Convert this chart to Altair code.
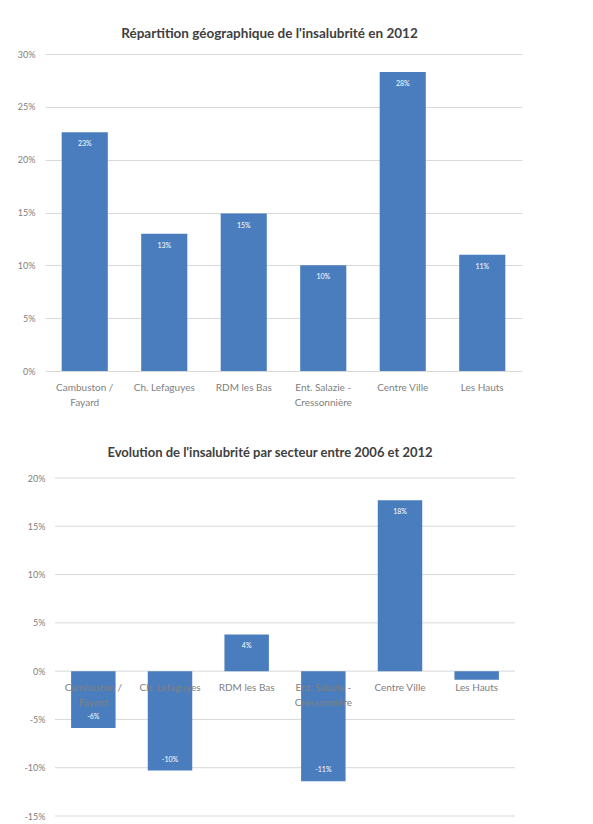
import altair as alt
import pandas as pd

categories = ["Cambuston /\nFayard", "Ch. Lefaguyes", "RDM les Bas",
              "Ent. Salazie -\nCressonnière", "Centre Ville", "Les Hauts"]
share_2012 = [0.226, 0.130, 0.149, 0.100, 0.283, 0.110]
change_2006_2012 = [-0.059, -0.103, 0.038, -0.114, 0.177, -0.009]
ticks1 = [0, 0.05, 0.10, 0.15, 0.20, 0.25, 0.30]
ticks2 = [-0.15, -0.10, -0.05, 0, 0.05, 0.10, 0.15, 0.20]
title1 = "Répartition géographique de l'insalubrité en 2012"
title2 = "Evolution de l'insalubrité par secteur entre 2006 et 2012"

BLUE = "#4a7dbd"
FONT = "Lato"
GRAY = "#808080"
GRID = "#d9d9d9"
HYPHEN = "replace(format(datum.v, '.0%'), '\u2212', '-')"


def panel(values, ticks, title, width, height, xrange, label_pad,
          title_size, title_offset, dx, grid_rules):
    df = pd.DataFrame({"cat": categories, "v": values})
    sc = dict(paddingInner=0.42, paddingOuter=0.21)
    if xrange is not None:
        sc["range"] = xrange
    xenc = alt.X("cat:N", sort=categories, axis=None, scale=alt.Scale(**sc))
    yscale = alt.Scale(domain=[ticks[0], ticks[-1]], nice=False)
    yaxis = alt.Axis(values=ticks, format=".0%", title=None, domain=False,
                     labelExpr="replace(datum.label, '\u2212', '-')",
                     ticks=False, grid=not grid_rules, gridColor=GRID,
                     labelColor=GRAY, labelFont=FONT, labelFontSize=9,
                     labelPadding=label_pad, minExtent=40, maxExtent=40)
    base = alt.Chart(df).transform_calculate(lbl=HYPHEN)
    layers = []
    if grid_rules:
        gdf = pd.DataFrame({"v": ticks})
        layers.append(alt.Chart(gdf).mark_rule(color=GRID, strokeWidth=1).encode(
            y=alt.Y("v:Q", scale=yscale, axis=yaxis),
            x=alt.value(xrange[0]), x2=alt.value(xrange[1])))
    bars = base.mark_bar(color=BLUE).encode(
        x=xenc, y=alt.Y("v:Q", scale=yscale, axis=yaxis))
    pos = base.transform_filter("datum.v >= 0.02").mark_text(
        baseline="middle", dy=12, color="white", font=FONT, fontSize=7
    ).encode(x=xenc, y=alt.Y("v:Q"), text="lbl:N")
    neg = base.transform_filter("datum.v <= -0.02").mark_text(
        baseline="middle", dy=-11, color="white", font=FONT, fontSize=7
    ).encode(x=xenc, y=alt.Y("v:Q"), text="lbl:N")
    cats = base.mark_text(
        baseline="top", dy=12, lineBreak="\n", lineHeight=15,
        color=GRAY, font=FONT, fontSize=10
    ).encode(x=xenc, y=alt.datum(0), text="cat:N")
    layers += [bars, pos, neg, cats]
    return alt.layer(*layers).properties(
        width=width, height=height,
        title=alt.TitleParams(title, font=FONT, fontSize=title_size,
                              fontWeight="bold", color="#404040",
                              offset=title_offset, dx=dx, anchor="middle"))


c1 = panel(share_2012, ticks1, title1, 477, 317, None, 10, 13.5, 10, -14, False)
c2 = panel(change_2006_2012, ticks2, title2, 470, 338, [10, 470], 0, 13, 14, -10, True)

chart = alt.vconcat(c1, c2, spacing=39).properties(
    padding={"left": 5, "top": 26, "right": 5, "bottom": 0},
    background="white",
).configure_view(stroke=None)

chart.save("out.html", embed_options={"renderer": "svg", "actions": False})
